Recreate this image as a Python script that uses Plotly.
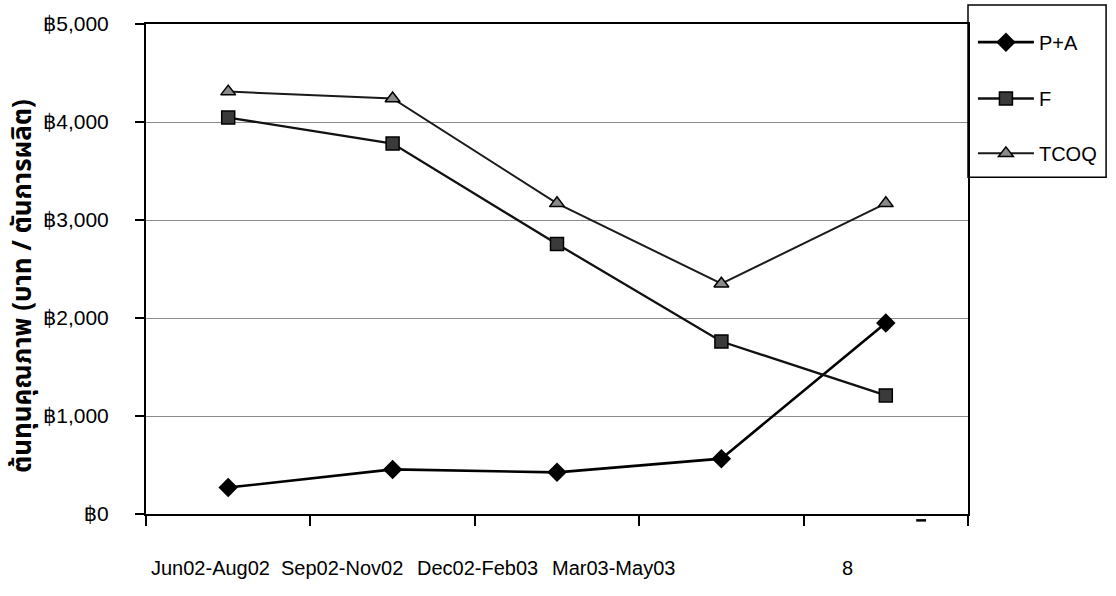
import plotly.graph_objects as go

# Quarterly periods and quality-cost series (baht per ton of production)
periods = ["Jun02-Aug02", "Sep02-Nov02", "Dec02-Feb03", "Mar03-May03", "8"]
pa_cost = [270, 455, 425, 565, 1950]
f_cost = [4045, 3780, 2755, 1760, 1210]
tcoq_cost = [4310, 4240, 3170, 2350, 3170]
y_ticks = [0, 1000, 2000, 3000, 4000, 5000]
y_tick_text = ["฿0", "฿1,000", "฿2,000", "฿3,000", "฿4,000", "฿5,000"]

FONT = "Liberation Sans, Arial, sans-serif"
TICK_FONT = "Liberation Sans, DejaVu Sans, Arial, sans-serif"
THAI = "Noto Sans Thai, Loma, Garuda, Tlwg Typo, Liberation Sans, sans-serif"

fig = go.Figure()

fig.add_trace(go.Scatter(
    x=periods, y=pa_cost, name="P+A", mode="lines+markers",
    line=dict(color="black", width=2.6),
    marker=dict(symbol="diamond", size=15, color="black"),
    legend="legend",
))
fig.add_trace(go.Scatter(
    x=periods, y=f_cost, name="F", mode="lines+markers",
    line=dict(color="#111", width=2.3),
    marker=dict(symbol="square", size=13, color="#3a3a3a",
                line=dict(color="black", width=1.5)),
    legend="legend2",
))
fig.add_trace(go.Scatter(
    x=periods, y=tcoq_cost, name="TCOQ", mode="lines+markers",
    line=dict(color="#1a1a1a", width=2),
    marker=dict(symbol="triangle-up", size=13, color="#8a8a8a",
                line=dict(color="black", width=1.5)),
    legend="legend3",
))

legend_common = dict(
    xanchor="left", yanchor="middle", x=1.006,
    bgcolor="rgba(0,0,0,0)", borderwidth=0,
    font=dict(family=FONT, size=20, color="black"),
    itemwidth=56,
)

fig.update_layout(
    width=1116, height=596,
    margin=dict(l=146, r=148, t=22, b=82),
    paper_bgcolor="white", plot_bgcolor="white",
    font=dict(family=FONT, size=20, color="black"),
    showlegend=True,
    legend=dict(y=0.963, **legend_common),
    legend2=dict(y=0.848, **legend_common),
    legend3=dict(y=0.736, **legend_common),
    xaxis=dict(
        type="category", range=[-0.5, 4.5],
        showticklabels=False, ticks="outside", tickson="boundaries",
        ticklen=10, tickwidth=1.5, tickcolor="black",
        showline=True, linecolor="black", linewidth=2, mirror=True,
        showgrid=False, zeroline=False,
    ),
    yaxis=dict(
        range=[0, 5000], tickmode="array", tickvals=y_ticks, ticktext=y_tick_text,
        ticks="outside", ticklen=9, tickwidth=1.5, tickcolor="black",
        showline=True, linecolor="black", linewidth=2, mirror=True,
        showgrid=True, gridcolor="#8c8c8c", gridwidth=1, zeroline=False,
        tickfont=dict(family=TICK_FONT, size=21, color="black"),
        ticklabelstandoff=22,
    ),
)

# Legend frame on the right edge
fig.add_shape(type="rect", xref="paper", yref="paper",
              x0=1.0, x1=1.168, y0=0.687, y1=1.039,
              line=dict(color="black", width=1.5), fillcolor="rgba(0,0,0,0)")

# Period labels beneath the axis
label_x = [0.078, 0.238, 0.403, 0.569, 0.854]
for lx, text in zip(label_x, periods):
    fig.add_annotation(x=lx, y=-0.11, xref="paper", yref="paper",
                       xanchor="center", yanchor="middle",
                       text=text, showarrow=False,
                       font=dict(family=FONT, size=20, color="black"))

# Small stray tick under the last category
fig.add_shape(type="line", xref="paper", yref="paper",
              x0=0.937, x1=0.949, y0=-0.013, y1=-0.013,
              line=dict(color="black", width=2.5))

# Vertical axis title
fig.add_annotation(x=-0.150, y=0.465, xref="paper", yref="paper",
                   xanchor="center", yanchor="middle",
                   text="<b>ต้นทุนคุณภาพ (บาท / ตันการผลิต)</b>",
                   textangle=-90, showarrow=False,
                   font=dict(family=THAI, size=26, color="black"))

fig.write_html("out.html")
